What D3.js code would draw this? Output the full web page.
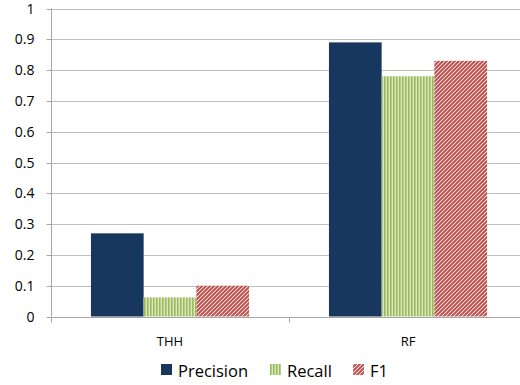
<!DOCTYPE html>
<html><head><meta charset="utf-8">
<script src="https://cdn.jsdelivr.net/npm/d3@7"></script>
<style>body{margin:0;background:#fff}svg{display:block}</style>
</head><body><svg id="c" width="520" height="385"></svg>
<script>
const categories = ["THH", "RF"];
const seriesNames = ["Precision", "Recall", "F1"];
const precision = [0.27, 0.89];
const recall = [0.062, 0.78];
const f1 = [0.10, 0.83];
const yTicks = [0, 0.1, 0.2, 0.3, 0.4, 0.5, 0.6, 0.7, 0.8, 0.9, 1];
const yTickLabels = ["0", "0.1", "0.2", "0.3", "0.4", "0.5", "0.6", "0.7", "0.8", "0.9", "1"];

const svg = d3.select("#c");
const defs = svg.append("defs");
// Recall: vertical green stripes
const pr = defs.append("pattern").attr("id","pRecall").attr("patternUnits","userSpaceOnUse").attr("width",3).attr("height",4);
pr.append("rect").attr("width",3).attr("height",4).attr("fill","#dbe7c4");
pr.append("rect").attr("width",1.6).attr("height",4).attr("fill","#9bbb59");
// F1: diagonal red hatch
const pf = defs.append("pattern").attr("id","pF1").attr("patternUnits","userSpaceOnUse").attr("width",4).attr("height",4);
pf.append("rect").attr("width",4).attr("height",4).attr("fill","#ffffff");
pf.append("path").attr("d","M-1,1 L1,-1 M0,4 L4,0 M3,5 L5,3").attr("stroke","#c0504d").attr("stroke-width",2);

const fills = ["#17375e", "url(#pRecall)", "url(#pF1)"];
const data = [precision, recall, f1];

const x0 = d3.scaleBand().domain(categories).range([51, 527]).paddingInner(0).paddingOuter(0);
const x1 = d3.scaleBand().domain(seriesNames).range([0, x0.bandwidth()]).paddingInner(0).paddingOuter(0.758);
const y = d3.scaleLinear().domain([0, 1]).range([316.5, 8.5]);

// gridlines
svg.append("g").selectAll("line").data(yTicks.slice(1)).join("line")
  .attr("x1", 51).attr("x2", 520)
  .attr("y1", d => Math.round(y(d)) + 0.5).attr("y2", d => Math.round(y(d)) + 0.5)
  .attr("stroke", "#c0c0c0").attr("stroke-width", 1);

// y axis
const yAxis = d3.axisLeft(y).tickValues(yTicks).tickFormat((d,i) => yTickLabels[i]).tickSize(5).tickPadding(12);
const gy = svg.append("g").attr("transform", "translate(51.5,0)").call(yAxis);
gy.select(".domain").attr("stroke", "#a6a6a6").attr("d", `M0,${y(1)}V${y(0)}`);
gy.selectAll(".tick line").attr("stroke", "#a6a6a6");
gy.selectAll(".tick").attr("transform", d => `translate(0,${Math.round(y(d)) + 0.5})`);
gy.selectAll("text").attr("font-family", "'Open Sans', sans-serif").attr("font-size", 14).attr("fill", "#000");

// bars
const g = svg.append("g");
categories.forEach((c, ci) => {
  seriesNames.forEach((s, si) => {
    g.append("rect")
      .attr("x", x0(c) + x1(s))
      .attr("y", y(data[si][ci]))
      .attr("width", x1.bandwidth())
      .attr("height", y(0) - y(data[si][ci]))
      .attr("fill", fills[si]);
  });
});

// x axis
const xAxis = d3.axisBottom(x0).tickSize(0).tickPadding(19);
const gx = svg.append("g").attr("transform", `translate(0,${Math.round(y(0)) + 0.5})`).call(xAxis);
gx.select(".domain").attr("stroke", "#a6a6a6").attr("d", "M51,0H520");
gx.selectAll("text").attr("font-family", "'Open Sans', sans-serif").attr("font-size", 13).attr("fill", "#000");
gx.selectAll(".sep").data([51, 289, 527]).join("line").attr("class","sep")
  .attr("x1", d => d + 0.5).attr("x2", d => d + 0.5).attr("y1", 0).attr("y2", 5).attr("stroke", "#a6a6a6");

// legend
const legendX = [161, 270, 353];
const lg = svg.append("g");
seriesNames.forEach((s, i) => {
  lg.append("rect").attr("x", legendX[i]).attr("y", 364).attr("width", 11).attr("height", 11).attr("fill", fills[i]);
  lg.append("text").attr("x", legendX[i] + 17).attr("y", 377).text(s)
    .attr("font-family", "'Open Sans', sans-serif").attr("font-size", 16.5).attr("fill", "#000");
});
</script></body></html>
